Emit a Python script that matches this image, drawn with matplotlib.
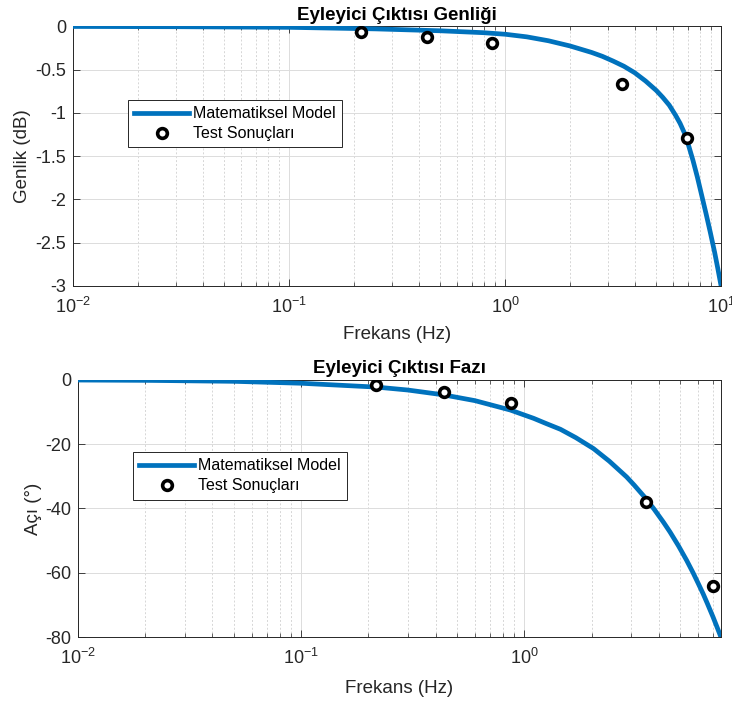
import matplotlib
matplotlib.use("Agg")
import matplotlib.pyplot as plt
from matplotlib.ticker import LogLocator, NullFormatter, FixedLocator

plt.rcParams['font.family'] = ['Liberation Sans', 'DejaVu Sans']
plt.rcParams['mathtext.fontset'] = 'custom'
plt.rcParams['mathtext.rm'] = 'Liberation Sans'
plt.rcParams['mathtext.it'] = 'Liberation Sans'

# model curve
model_f_mag = [0.01, 0.0316, 0.1, 0.251, 0.501, 0.794, 1.0, 1.259, 1.585, 1.995,
               2.512, 2.818, 3.162, 3.548, 3.981, 4.467, 5.012, 5.370, 5.754, 6.166,
               6.457, 6.761, 7.079, 7.413, 7.762, 8.128, 8.511, 8.913, 9.333, 9.66, 10.0]
model_mag = [0.0, -0.003, -0.01, -0.028, -0.05, -0.072, -0.09, -0.12, -0.165, -0.225,
             -0.30, -0.345, -0.40, -0.46, -0.535, -0.63, -0.74, -0.82, -0.91, -1.03,
             -1.12, -1.23, -1.38, -1.55, -1.74, -1.95, -2.16, -2.38, -2.61, -2.80, -3.0]

model_f_ph = [0.01, 0.02, 0.05, 0.1, 0.218, 0.3, 0.434, 0.6, 0.863, 1.1, 1.25, 1.45,
              1.7, 2.04, 2.4, 2.87, 3.1, 3.47, 3.8, 4.2, 4.49, 4.9, 5.33, 5.7, 6.0,
              6.32, 6.6, 7.0, 7.3, 7.6]
model_ph = [-0.1, -0.2, -0.5, -1.1, -2.3, -3.2, -4.7, -6.5, -9.4, -12.0, -13.6, -15.4,
            -18.0, -21.4, -25.3, -30.2, -32.7, -36.6, -40.1, -44.3, -47.3, -51.6, -56.1,
            -60.0, -63.2, -66.5, -69.5, -73.7, -76.9, -80.0]

# test results
test_f = [0.216, 0.435, 0.87, 3.49, 6.97]
test_mag = [-0.06, -0.12, -0.19, -0.67, -1.29]
test_ph = [-1.65, -3.8, -7.25, -38.1, -64.0]

blue = '#0072BD'
dark = '#262626'

fig = plt.figure(figsize=(7.32, 7.02), dpi=100)
ax1 = fig.add_axes([0.1001, 0.5926, 0.885, 0.3697])
ax2 = fig.add_axes([0.1066, 0.0922, 0.8784, 0.3669])


def style(ax):
    ax.set_xscale('log')
    ax.xaxis.set_major_locator(LogLocator(base=10, numticks=10))
    ax.xaxis.set_minor_locator(LogLocator(base=10, subs=range(2, 10), numticks=20))
    ax.xaxis.set_minor_formatter(NullFormatter())
    ax.grid(True, which='major', color='#dcdcdc', lw=0.7, ls='-')
    ax.grid(True, which='minor', axis='x', color='#d6d6d6', lw=0.7, ls=(0, (2, 2)))
    ax.set_axisbelow(True)
    ax.tick_params(which='both', direction='in', top=True, right=True, colors=dark,
                   labelsize=13, labelcolor=dark)
    ax.tick_params(axis='x', which='major', pad=8)
    ax.tick_params(axis='y', which='major', pad=5)
    ax.tick_params(which='major', length=5, width=0.6)
    ax.tick_params(which='minor', length=3, width=0.5)
    for s in ax.spines.values():
        s.set_color(dark)
        s.set_linewidth(0.7)


def add_legend(ax, x, y):
    leg = ax.legend(loc='upper left', bbox_to_anchor=(x, y), borderaxespad=0,
                    fontsize=11.5, handlelength=3.4, handletextpad=0.25, borderpad=0.4,
                    labelspacing=0.3, fancybox=False, framealpha=1, edgecolor=dark)
    leg.get_frame().set_linewidth(0.7)


# top: amplitude
ax1.plot(model_f_mag, model_mag, color=blue, lw=3.4, label='Matematiksel Model', zorder=3)
ax1.plot(test_f, test_mag, 'o', color='black', mfc='white', mec='black', mew=2.6, ms=7,
         label='Test Sonuçları', zorder=4)
style(ax1)
ax1.set_xlim(0.01, 10)
ax1.set_ylim(-3, 0)
ax1.yaxis.set_major_locator(FixedLocator([-3, -2.5, -2, -1.5, -1, -0.5, 0]))
ax1.set_yticklabels(['-3', '-2.5', '-2', '-1.5', '-1', '-0.5', '0'])
ax1.set_title('Eyleyici Çıktısı Genliği', fontsize=13.5, fontweight='bold', color='black', pad=5)
ax1.set_xlabel('Frekans (Hz)', fontsize=13.5, color=dark, labelpad=6)
ax1.set_ylabel('Genlik (dB)', fontsize=13.5, color=dark, labelpad=3)
add_legend(ax1, 0.0845, 0.717)

# bottom: phase
ax2.plot(model_f_ph, model_ph, color=blue, lw=3.4, label='Matematiksel Model', zorder=3)
ax2.plot(test_f, test_ph, 'o', color='black', mfc='white', mec='black', mew=2.6, ms=7,
         label='Test Sonuçları', zorder=4)
style(ax2)
ax2.set_xlim(0.01, 7.6)
ax2.set_ylim(-80, 0)
ax2.yaxis.set_major_locator(FixedLocator([-80, -60, -40, -20, 0]))
ax2.set_yticklabels(['-80', '-60', '-40', '-20', '0'])
ax2.set_title('Eyleyici Çıktısı Fazı', fontsize=13.5, fontweight='bold', color='black', pad=5)
ax2.set_xlabel('Frekans (Hz)', fontsize=13.5, color=dark, labelpad=8)
ax2.set_ylabel('Açı (°)', fontsize=13.5, color=dark, labelpad=2)
add_legend(ax2, 0.0855, 0.719)

fig.savefig('out.png', dpi=100, facecolor='white')
